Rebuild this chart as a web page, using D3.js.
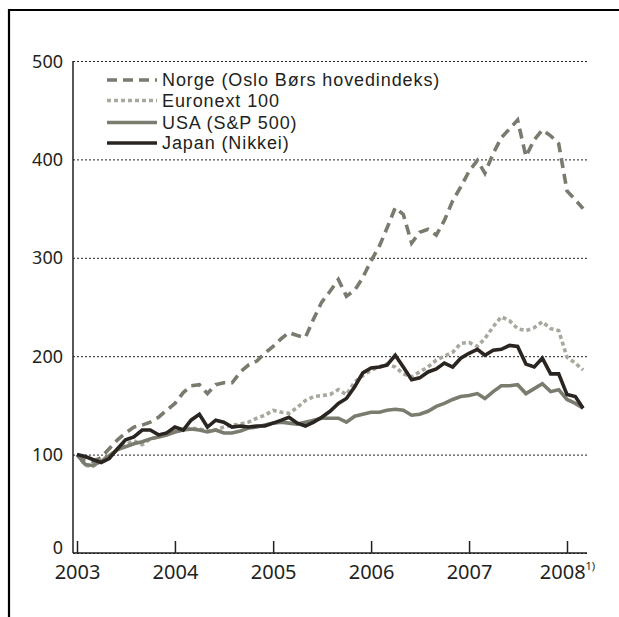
<!DOCTYPE html>
<html><head><meta charset="utf-8">
<script src="https://cdn.jsdelivr.net/npm/d3@7"></script>
<style>
html,body{margin:0;padding:0;background:#fff;}
svg{display:block;}
text{font-family:"Noto Sans",sans-serif;fill:#231f20;}
.leg{font-family:"Liberation Sans",Arial,sans-serif;}
</style></head>
<body>
<svg id="c" width="619" height="617"></svg>
<script>
const startYear = 2003, startMonth = 0;
const yearTicks = [2003, 2004, 2005, 2006, 2007, 2008];
const yTicks = [0, 100, 200, 300, 400, 500];
const seriesNames = ["Norge (Oslo Børs hovedindeks)", "Euronext 100", "USA (S&P 500)", "Japan (Nikkei)"];
// monthly index values, Jan 2003 = 100, through Mar 2008
const norge = [100,95,93,97,106,115,122,128,130,133,138,145,152,163,170,171,162,171,173,173,184,191,195,203,210,218,224,221,219,238,255,266,278,261,267,280,297,312,330,351,344,315,326,329,323,338,358,372,388,399,386,406,422,431,440,403,420,430,424,416,368,359,350];
const euronext = [100,89,88,94,99,105,110,114,110,116,118,121,124,126,127,126,124,125,128,130,131,133,137,140,145,143,142,148,155,159,160,161,166,161,174,180,186,189,192,189,182,179,184,189,196,200,204,213,214,210,218,230,240,236,228,226,229,235,228,226,199,193,186];
const usa = [100,90,89,93,99,105,108,111,113,116,118,120,123,125,126,125,123,125,122,122,124,127,128,130,132,133,132,131,133,135,137,137,137,133,139,141,143,143,145,146,145,140,141,144,149,152,156,159,160,162,157,164,170,170,171,162,167,172,164,166,156,152,147];
const japan = [100,98,95,92,96,106,115,118,125,125,120,122,128,125,135,141,128,135,133,128,129,128,129,129,132,135,138,132,129,133,138,144,152,157,169,183,188,189,191,201,189,176,178,184,187,193,189,198,203,207,201,206,207,211,210,192,189,198,182,182,161,159,147];

const allSeries = [norge, euronext, usa, japan];
const styles = [
  {color:"#7a7b6e", dash:"10,6"},
  {color:"#a8a89e", dash:"4,3"},
  {color:"#7a7c6f", dash:null},
  {color:"#2a2521", dash:null}
];

const svg = d3.select("#c");
// frame
svg.append("line").attr("x1",8).attr("x2",619).attr("y1",10).attr("y2",10).attr("stroke","#000").attr("stroke-width",2.2);
svg.append("line").attr("x1",9).attr("x2",9).attr("y1",9).attr("y2",617).attr("stroke","#000").attr("stroke-width",2.2);

const x = d3.scaleTime().domain([new Date(2003,0,1), new Date(2008,0,1)]).range([77, 567]);
const y = d3.scaleLinear().domain([0, 500]).range([553, 61]);
const axL = 73, axR = 587;

// y grid + labels
const gy = svg.append("g").attr("transform", `translate(${axL},0)`)
  .call(d3.axisLeft(y).tickValues(yTicks).tickSize(-(axR-axL)).tickPadding(10).tickFormat(d3.format("d")));
gy.select(".domain").remove();
gy.selectAll(".tick line").attr("stroke","#231f20").attr("stroke-width",1).attr("stroke-dasharray","2,2");
gy.selectAll(".tick text").style("font-size","18px").attr("fill","#231f20")
  .attr("dy", d => d === 0 ? "0.02em" : "0.34em");

// y axis line
svg.append("line").attr("x1",axL).attr("x2",axL).attr("y1",y(500)).attr("y2",y(0)).attr("stroke","#231f20").attr("stroke-width",1.5);
// x axis line
svg.append("line").attr("x1",axL).attr("x2",axR).attr("y1",y(0)).attr("y2",y(0)).attr("stroke","#231f20").attr("stroke-width",1.5);

// x ticks
const gx = svg.append("g").attr("transform", `translate(0,${y(0)})`)
  .call(d3.axisBottom(x).tickValues(yearTicks.map(yr => new Date(yr,0,1))).tickSize(-12).tickSizeOuter(0).tickPadding(8).tickFormat(d3.timeFormat("%Y")));
gx.select(".domain").remove();
gx.selectAll(".tick line").attr("stroke","#231f20").attr("stroke-width",1.5);
gx.selectAll(".tick text").style("font-size","20px").attr("fill","#231f20").attr("dy","0.9em");
gx.selectAll(".tick text").filter(d => d.getFullYear() === 2008).each(function(){
  d3.select(this).append("tspan").text("1)").style("font-size","11px").attr("dy","-0.8em");
});

// lines
const line = d3.line().x((d,i) => x(new Date(startYear, startMonth + i, 1))).y(d => y(d));
allSeries.forEach((s, k) => {
  const p = svg.append("path").datum(s).attr("d", line).attr("fill","none")
    .attr("stroke", styles[k].color).attr("stroke-width",3.6).attr("stroke-linejoin","miter");
  if (styles[k].dash) p.attr("stroke-dasharray", styles[k].dash);
});

// legend
const legY = [80, 100.5, 122.5, 143];
seriesNames.forEach((name, k) => {
  const g = svg.append("g");
  const l = g.append("line").attr("x1",107).attr("x2",157).attr("y1",legY[k]).attr("y2",legY[k])
    .attr("stroke", styles[k].color).attr("stroke-width",3.6);
  if (styles[k].dash) l.attr("stroke-dasharray", styles[k].dash);
  g.append("text").attr("class","leg").attr("x",162).attr("y",legY[k]).attr("dy","0.36em")
    .style("font-size","18px").style("letter-spacing","0.9px").text(name);
});
</script>
</body></html>
